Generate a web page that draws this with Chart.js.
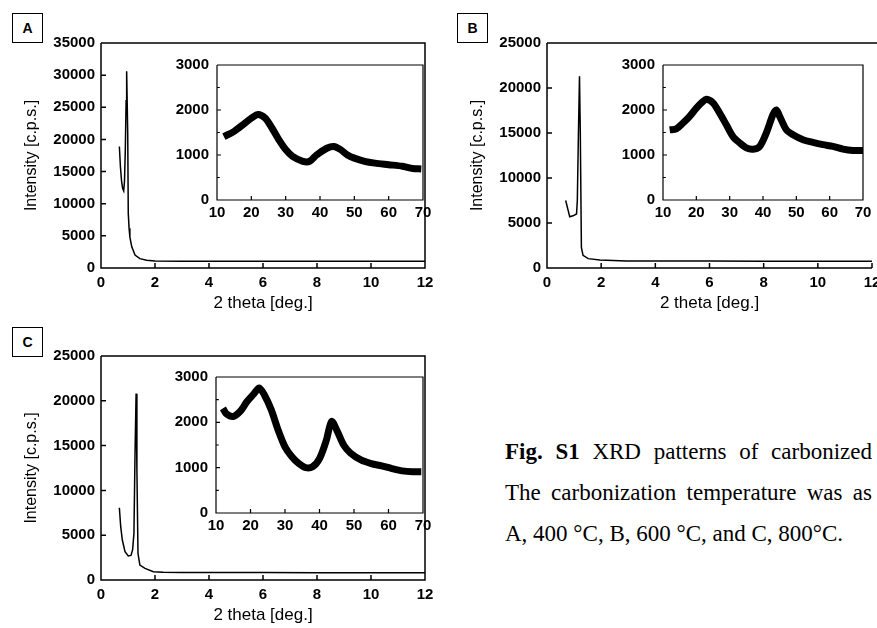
<!DOCTYPE html>
<html>
<head>
<meta charset="utf-8">
<script src="https://cdn.jsdelivr.net/npm/chart.js@4.4.1/dist/chart.umd.min.js"></script>
<style>
  html, body { margin: 0; padding: 0; background: #fff; }
  body { width: 877px; height: 628px; position: relative; overflow: hidden; font-family: "Liberation Sans", Arial, sans-serif; }
  canvas { position: absolute; }
  .tag { position: absolute; width: 31px; height: 30px; border: 1px solid #000; box-sizing: border-box;
         font-weight: bold; font-size: 14px; display: flex; align-items: center; justify-content: center; }
  .caption { position: absolute; left: 505px; top: 431px; width: 367px; color: #000;
             font-family: "Liberation Serif", "Times New Roman", serif; font-size: 23px; line-height: 41px; }
  .caption .j { text-align: justify; text-align-last: justify; }
</style>
</head>
<body>
<div class="tag" style="left:12px;top:13px">A</div>
<div class="tag" style="left:457px;top:13px">B</div>
<div class="tag" style="left:12px;top:327px">C</div>

<canvas id="mainA" width="440" height="318" style="left:0;top:0"></canvas>
<canvas id="mainB" width="431" height="318" style="left:446px;top:0"></canvas>
<canvas id="mainC" width="440" height="317" style="left:0;top:313px"></canvas>
<canvas id="insetA" width="273" height="172" style="left:167px;top:53px"></canvas>
<canvas id="insetB" width="264" height="172" style="left:613px;top:53px"></canvas>
<canvas id="insetC" width="274" height="173" style="left:166px;top:365px"></canvas>

<div class="caption">
  <div class="j"><b>Fig. S1</b> XRD patterns of carbonized</div>
  <div class="j">The carbonization temperature was as</div>
  <div>A, 400 °C, B, 600 °C, and C, 800°C.</div>
</div>

<script>
// 저각 XRD (0-12 deg)
const thetaA = [0.68, 0.72, 0.76, 0.80, 0.84, 0.87, 0.90, 0.93, 0.95, 0.99, 1.01, 1.04, 1.07, 1.14, 1.26, 1.44, 1.69, 2.0, 3, 4, 6, 8, 10, 12];
const cpsA = [18900, 15700, 13600, 12400, 12000, 13500, 18300, 26000, 30600, 20900, 8500, 6200, 4800, 3300, 2000, 1450, 1190, 1090, 1060, 1050, 1050, 1050, 1050, 1050];

const thetaB = [0.69, 0.78, 0.84, 0.96, 1.09, 1.12, 1.16, 1.20, 1.23, 1.27, 1.33, 1.52, 1.95, 2.93, 4, 6, 8, 10, 12];
const cpsB = [7500, 6400, 5700, 5800, 6000, 7500, 14900, 21300, 14900, 2300, 1400, 1040, 890, 780, 770, 770, 760, 760, 760];

const thetaC = [0.68, 0.73, 0.79, 0.89, 1.01, 1.11, 1.17, 1.22, 1.26, 1.30, 1.33, 1.37, 1.44, 1.63, 1.94, 2.3, 3, 4, 6, 8, 10, 12];
const cpsC = [8070, 5950, 4460, 3160, 2680, 2750, 3350, 5200, 14100, 20800, 12300, 2970, 1670, 1300, 930, 860, 840, 830, 830, 820, 820, 820];

// 광각 삽입 그래프 (10-70 deg)
const wideA = [12, 15, 18, 20, 22, 24, 26, 28, 30, 32, 35, 37, 39, 42, 44, 46, 48, 50, 53, 56, 60, 64, 67, 69.5];
const wideCpsA = [1410, 1525, 1700, 1820, 1900, 1820, 1600, 1340, 1120, 970, 860, 860, 1000, 1150, 1190, 1120, 1000, 930, 860, 820, 785, 750, 700, 690];

const wideB = [12, 14, 16, 18, 20, 22, 23, 25, 27, 29, 31, 33, 35, 37, 39, 41, 43, 44, 45, 47, 49, 52, 55, 58, 61, 64, 67, 70];
const wideCpsB = [1560, 1580, 1710, 1860, 2040, 2190, 2240, 2160, 1930, 1670, 1410, 1270, 1160, 1130, 1190, 1490, 1900, 2000, 1860, 1560, 1450, 1340, 1280, 1230, 1190, 1130, 1100, 1100];

const wideC = [12, 13, 15, 17, 19, 21, 22.5, 24, 26, 28, 30, 32, 34, 36, 38, 40, 42, 43.5, 45, 47, 49, 52, 55, 58, 61, 64, 67, 69.5];
const wideCpsC = [2310, 2190, 2130, 2240, 2460, 2630, 2760, 2610, 2280, 1830, 1460, 1240, 1090, 1000, 1020, 1200, 1610, 2020, 1830, 1500, 1320, 1170, 1090, 1040, 980, 930, 910, 910];

const FONT = '"Liberation Sans", Arial, sans-serif';
Chart.defaults.font.family = FONT;
Chart.defaults.color = '#000';

// 프레임 + 안쪽 눈금
const frameTicks = {
  id: 'frameTicks',
  afterDraw(chart, args, opts) {
    const { ctx, chartArea: a, scales: { x, y } } = chart;
    ctx.save();
    ctx.strokeStyle = '#000';
    ctx.lineWidth = opts.lineWidth;
    ctx.beginPath();
    ctx.moveTo(a.left, a.top);
    ctx.lineTo(a.left, a.bottom);
    ctx.lineTo(a.right, a.bottom);
    if (opts.right) {
      ctx.lineTo(a.right, a.top);
      ctx.lineTo(a.left, a.top);
    } else {
      ctx.moveTo(a.left, a.top);
      ctx.lineTo(chart.width, a.top);
    }
    for (const t of x.ticks) {
      const px = x.getPixelForValue(t.value);
      ctx.moveTo(px, a.bottom);
      ctx.lineTo(px, a.bottom - opts.len);
    }
    for (const t of y.ticks) {
      const py = y.getPixelForValue(t.value);
      ctx.moveTo(a.left, py);
      ctx.lineTo(a.left + opts.len, py);
    }
    if (opts.minorY) {
      for (let v = y.min + opts.minorY; v < y.max; v += opts.minorY * 2) {
        const py = y.getPixelForValue(v);
        ctx.moveTo(a.left, py);
        ctx.lineTo(a.left + opts.len * 0.7, py);
      }
    }
    ctx.stroke();
    ctx.restore();
  }
};
Chart.register(frameTicks);

function fixAxis(size) {
  return (scale) => {
    if (scale.isHorizontal()) scale.height = size; else scale.width = size;
    scale.paddingLeft = scale.paddingRight = scale.paddingTop = scale.paddingBottom = 0;
  };
}

const tickFont = { size: 15, weight: 'bold' };

function xy(xs, ys) {
  return xs.map((v, i) => ({ x: v, y: ys[i] }));
}

function mainChart(id, xs, ys, yMax, padRight, right) {
  return new Chart(document.getElementById(id), {
    type: 'line',
    data: {
      datasets: [{
        data: xy(xs, ys),
        borderColor: '#000',
        borderWidth: 1.5,
        pointRadius: 0,
        tension: 0,
      }],
    },
    options: {
      responsive: false,
      animation: false,
      layout: { padding: { top: 43, right: padRight, left: 0, bottom: 0 } },
      plugins: {
        legend: { display: false },
        tooltip: { enabled: false },
        frameTicks: { lineWidth: 1.5, len: 5, right },
      },
      scales: {
        x: {
          type: 'linear',
          min: 0,
          max: 12,
          ticks: { stepSize: 2, font: tickFont, padding: 6, maxRotation: 0, color: '#000' },
          grid: { display: false, drawTicks: false },
          border: { display: false },
          title: { display: true, text: '2 theta [deg.]', font: { size: 17 }, color: '#000', padding: { top: 0, bottom: 4 } },
          afterFit: fixAxis(50),
        },
        y: {
          min: 0,
          max: yMax,
          ticks: { stepSize: 5000, font: tickFont, padding: 6, color: '#000', callback: (v) => String(v) },
          grid: { display: false, drawTicks: false },
          border: { display: false },
          title: { display: true, text: 'Intensity [c.p.s.]', font: { size: 16 }, color: '#000', padding: { top: 22, bottom: 0 } },
          afterFit: fixAxis(101),
        },
      },
    },
  });
}

function insetChart(id, xs, ys, padRight) {
  return new Chart(document.getElementById(id), {
    type: 'line',
    data: {
      datasets: [{
        data: xy(xs, ys),
        borderColor: '#000',
        borderWidth: 7,
        borderJoinStyle: 'round',
        pointRadius: 0,
        tension: 0.3,
      }],
    },
    options: {
      responsive: false,
      animation: false,
      layout: { padding: { top: 12, right: padRight, left: 0, bottom: 0 } },
      plugins: {
        legend: { display: false },
        tooltip: { enabled: false },
        frameTicks: { lineWidth: 1.2, len: 4, right: true, minorY: 500 },
      },
      scales: {
        x: {
          type: 'linear',
          min: 10,
          max: 70,
          ticks: { stepSize: 10, font: tickFont, padding: 4, maxRotation: 0, color: '#000' },
          grid: { display: false, drawTicks: false },
          border: { display: false },
          afterFit: fixAxis(25),
        },
        y: {
          min: 0,
          max: 3000,
          ticks: { stepSize: 1000, font: tickFont, padding: 8, color: '#000', callback: (v) => String(v) },
          grid: { display: false, drawTicks: false },
          border: { display: false },
          afterFit: fixAxis(50),
        },
      },
    },
  });
}

mainChart('mainA', thetaA, cpsA, 35000, 15, true);
mainChart('mainB', thetaB, cpsB, 25000, 5, false);
mainChart('mainC', thetaC, cpsC, 25000, 15, true);
insetChart('insetA', wideA, wideCpsA, 17);
insetChart('insetB', wideB, wideCpsB, 14);
insetChart('insetC', wideC, wideCpsC, 17);
</script>
</body>
</html>
